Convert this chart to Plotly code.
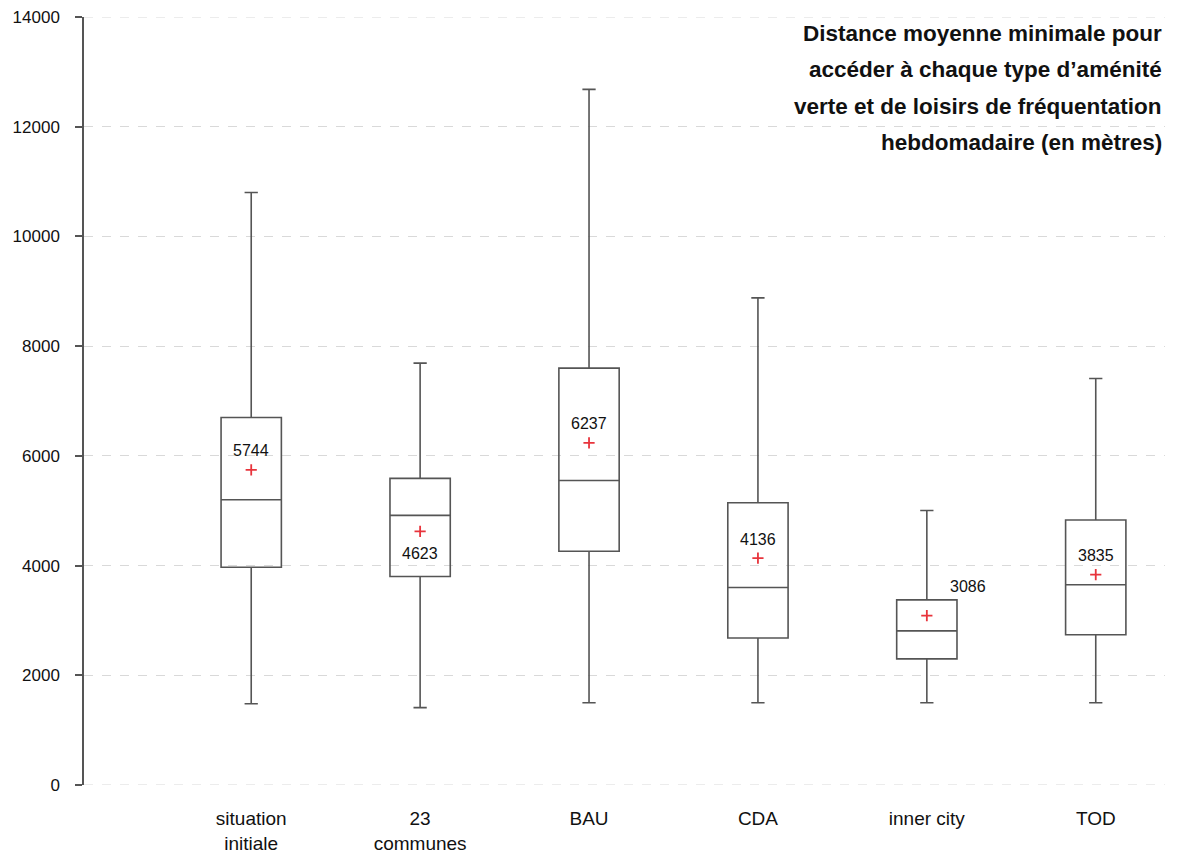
import plotly.graph_objects as go

categories = ["situation<br>initiale", "23<br>communes", "BAU", "CDA", "inner city", "TOD"]
lower_whisker = [1480, 1410, 1500, 1500, 1500, 1500]
q1 = [3970, 3800, 4260, 2680, 2300, 2740]
median = [5200, 4915, 5550, 3600, 2810, 3650]
q3 = [6700, 5590, 7600, 5145, 3375, 4830]
upper_whisker = [10800, 7690, 12680, 8880, 5005, 7410]
means = [5744, 4623, 6237, 4136, 3086, 3835]
mean_labels = ["5744", "4623", "6237", "4136", "3086", "3835"]
y_ticks = [0, 2000, 4000, 6000, 8000, 10000, 12000, 14000]
y_tick_labels = ["0", "2000", "4000", "6000", "8000", "10000", "12000", "14000"]
title_lines = [
    "Distance moyenne minimale pour",
    "accéder à chaque type d’aménité",
    "verte et de loisirs de fréquentation",
    "hebdomadaire (en mètres)",
]

label_offsets = [(0, -19), (0, 22), (0, -19), (0, -19), (41, -29), (0, -19)]

fig = go.Figure()
fig.add_trace(go.Box(
    x=categories,
    q1=q1, median=median, q3=q3,
    lowerfence=lower_whisker, upperfence=upper_whisker,
    line=dict(color="#555555", width=1.6),
    fillcolor="rgba(0,0,0,0)",
    whiskerwidth=0.22,
    boxpoints=False,
    showlegend=False,
    hoverinfo="skip",
))
fig.add_trace(go.Scatter(
    x=categories, y=means, mode="markers",
    marker=dict(symbol="cross-thin", size=8, line=dict(color="#e8343c", width=1.8)),
    showlegend=False, hoverinfo="skip",
))

for c, m, t, (dx, dy) in zip(categories, means, mean_labels, label_offsets):
    fig.add_annotation(x=c, y=m, text=t, showarrow=False, xshift=dx, yshift=-dy,
                       font=dict(family="Liberation Sans, Arial, sans-serif", size=16, color="#111111"))

title_y = [0.979, 0.931, 0.884, 0.837]
for line, yy in zip(title_lines, title_y):
    fig.add_annotation(xref="paper", yref="paper", x=1.0, y=yy, text="<b>" + line + "</b>",
                       xanchor="right", yanchor="middle", showarrow=False, xshift=-1,
                       font=dict(family="Liberation Sans, Arial, sans-serif", size=22.5, color="#111111"))

# dashed grid lines at the axis ends (plotly omits them at the range edges)
for yv in (y_ticks[0], y_ticks[-1]):
    fig.add_shape(type="line", xref="paper", yref="y", x0=0, x1=1, y0=yv, y1=yv,
                  line=dict(color="#d9d9d9", width=1, dash="dash"), layer="below")

fig.update_layout(
    width=1189, height=855,
    margin=dict(l=84, r=24, t=17, b=70, autoexpand=False),
    paper_bgcolor="white", plot_bgcolor="white",
    boxgap=0.49,
    font=dict(family="Liberation Sans, Arial, sans-serif", color="#111111"),
)
fig.update_xaxes(
    type="category", range=[-0.99, 5.41], automargin=False,
    showline=False, showgrid=False, zeroline=False, ticks="",
    tickfont=dict(family="Liberation Sans, Arial, sans-serif", size=19, color="#111111"),
    ticklabelstandoff=20,
)
fig.update_yaxes(
    range=[0, 14000], tickvals=y_ticks, ticktext=y_tick_labels, automargin=False,
    showline=True, linecolor="#555555", linewidth=1.5,
    ticks="outside", ticklen=7, tickcolor="#555555", tickwidth=1.5,
    showgrid=True, gridcolor="#d9d9d9", griddash="dash", gridwidth=1,
    zeroline=False,
    tickfont=dict(family="Liberation Sans, Arial, sans-serif", size=17, color="#111111"),
    ticklabelstandoff=12,
)

fig.write_html("out.html", config={"displayModeBar": False},
               post_script="document.body.style.margin='0';document.body.style.overflow='hidden';")
